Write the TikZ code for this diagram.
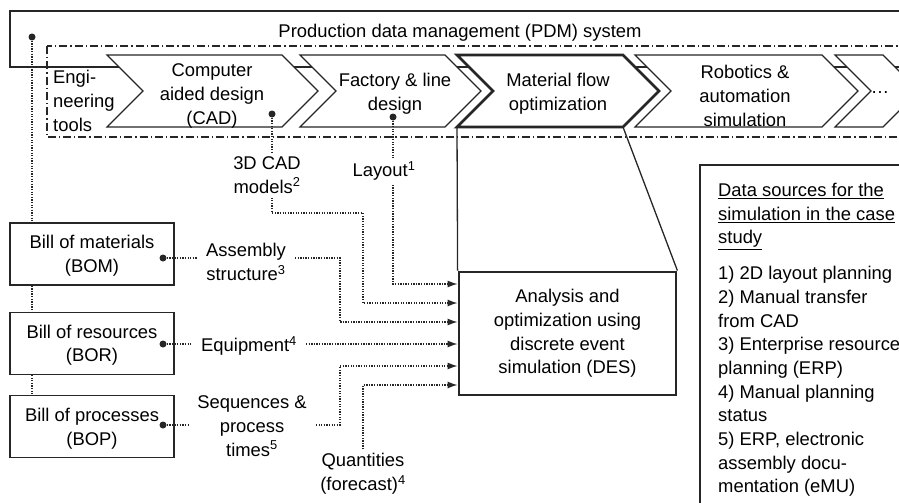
\documentclass[tikz,border=0pt]{standalone}
\usepackage{fontspec}
\setsansfont{Liberation Sans}
\usetikzlibrary{positioning,arrows.meta}
\colorlet{ink}{black!85}
\tikzset{
  frame/.style={draw=ink,line width=1.3pt},
  chev/.style={draw=ink,fill=white,line width=1.2pt},
  chevbold/.style={chev,line width=2.8pt},
  bill/.style={draw=ink,line width=1.3pt,minimum width=164pt,minimum height=62pt,align=center,inner sep=0pt,text depth=0pt},
  desbox/.style={draw=ink,line width=2.8pt,minimum width=217pt,minimum height=123pt,align=center},
  lbl/.style={align=center,inner xsep=9pt,inner ysep=4pt},
  dot/.style={circle,fill=ink,inner sep=0pt,minimum size=7pt},
  dotline/.style={draw=ink,line width=1.3pt,dash pattern=on 1.3pt off 1.3pt},
  dotarrow/.style={dotline,-{Latex[length=10pt,width=7pt]}},
}

\begin{document}
\begin{tikzpicture}[x=1pt,y=-1pt,font=\sffamily\fontsize{18.4}{23.7}\selectfont]
    \useasboundingbox (0,0) rectangle (899,503);
    \clip (0,0) rectangle (899,503);
    % PDM system and tool chain
    \draw[frame] (10,11) rectangle (930,67);
    \node (pdm) at (460,33) {Production data management (PDM) system};
    \draw[ink,line width=1.2pt,dash pattern=on 8pt off 3pt on 1.3pt off 3pt] (47,46) rectangle (930,137);
    \node[anchor=west,align=left,inner sep=0pt] (eng) at (53,101) {Engi-\\neering\\tools};
    \draw[chev] (107,55) -- (282,55) -- ++(36,36) -- ++(-36,36) -- (107,127) -- ++(36,-36) -- cycle;
    \node[align=center] (cad) at (212,96) {Computer\\aided design\\(CAD)};
    \draw[chev] (300,55) -- (445,55) -- ++(36,36) -- ++(-36,36) -- (300,127) -- ++(36,-36) -- cycle;
    \node[align=center] (fac) at (395,94) {Factory \& line\\design};
    \draw[chevbold] (457,55) -- (623,55) -- ++(36,36) -- ++(-36,36) coordinate (matbr) -- (457,127) coordinate (matbl) -- ++(36,-36) -- cycle;
    \node[align=center] (mat) at (558,94) {Material flow\\optimization};
    \draw[chev] (635,55) -- (822,55) -- ++(36,36) -- ++(-36,36) -- (635,127) -- ++(36,-36) -- cycle;
    \node[align=center] (rob) at (745,96) {Robotics \&\\automation\\simulation};
    \draw[chev] (835,55) -- (883,55) -- ++(36,36) -- ++(-36,36) -- (835,127) -- ++(36,-36) -- cycle;
    \node (more) at (880,93) {\ldots};
    % bills
    \node[dot] (pdmdot) at (32,37) {};
    \node[bill] (bom) at (92,254) {Bill of materials\\(BOM)};
    \node[bill,below=26pt of bom] (bor) {Bill of resources\\(BOR)};
    \node[bill,below=20pt of bor] (bop) {Bill of processes\\(BOP)};
    \node[dot] (bomdot) at (163,258) {};
    \node[dot] (bordot) at (163,344) {};
    \node[dot] (bopdot) at (163,425) {};
    \node[dot] (caddot) at (272,114) {};
    \node[dot] (laydot) at (393,117) {};
    % data labels
    \node[lbl] (asm) at (246,262) {Assembly\\structure\textsuperscript{3}};
    \node[lbl] (equip) at (249,346) {Equipment\textsuperscript{4}};
    \node[lbl] (seq) at (252,426) {Sequences \&\\process\\times\textsuperscript{5}};
    \node[lbl] (qty) at (363,474) {Quantities\\(forecast)\textsuperscript{4}};
    \node[lbl] (cadlbl) at (267,175) {3D CAD\\models\textsuperscript{2}};
    \node[lbl] (lay) at (384,171) {Layout\textsuperscript{1}};
    \node[desbox] (des) at (567.5,333.5) {Analysis and\\optimization using\\discrete event\\simulation (DES)};
    \draw[frame] (matbl) -- (des.north west);
    \draw[frame] (matbr) -- (des.north east);
    % connectors
    \draw[dotline] (pdmdot) -- (pdmdot |- bom.north);
    \draw[dotline] (bom.south -| pdmdot) -- (bor.north -| pdmdot);
    \draw[dotline] (bor.south -| pdmdot) -- (bop.north -| pdmdot);
    \draw[dotline] (bomdot) -- (asm.west |- bomdot);
    \draw[dotline] (bordot) -- (equip.west |- bordot);
    \draw[dotline] (bopdot) -- (seq.west |- bopdot);
    \draw[dotline] (caddot) -- (caddot |- cadlbl.north);
    \draw[dotline] (laydot) -- (laydot |- lay.north);
    \draw[dotarrow] (laydot |- lay.south) |- (des.west |- 0,284);
    \draw[dotarrow] (cadlbl.south -| caddot) |- (363,213) |- (des.west |- 0,303);
    \draw[dotarrow] (asm.east |- bomdot) -| (340,322) -- (des.west |- 0,322);
    \draw[dotarrow] (equip.east |- bordot) -- (des.west |- bordot);
    \draw[dotarrow] (seq.east |- bopdot) -| (340,366) -- (des.west |- 0,366);
    \draw[dotarrow] (qty.north) |- (des.west |- 0,385);
    % data sources
    \draw[frame] (700,520) -- (700,165) -- (930,165);
    \node[anchor=north west,align=left,inner sep=0pt] (src) at (718,183) {\underline{Data sources for the}\\\underline{simulation in the case}\\\underline{study}\\[12pt]1) 2D layout planning\\2) Manual transfer\\from CAD\\3) Enterprise resource\\planning (ERP)\\4) Manual planning\\status\\5) ERP, electronic\\assembly docu-\\mentation (eMU)};
\end{tikzpicture}
\end{document}
